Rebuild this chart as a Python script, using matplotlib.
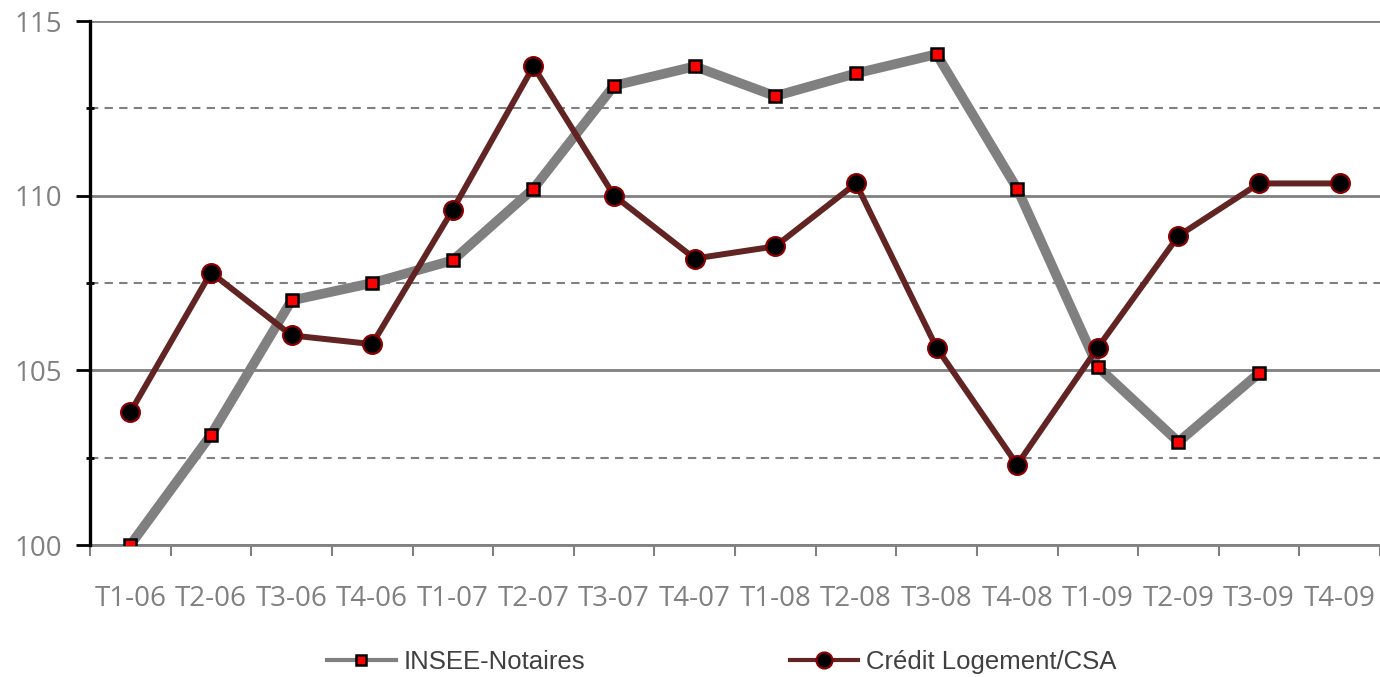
import numpy as np
import matplotlib
matplotlib.use("Agg")
import matplotlib.pyplot as plt
from matplotlib.ticker import MultipleLocator, FixedLocator

quarters = ["T1-06", "T2-06", "T3-06", "T4-06", "T1-07", "T2-07", "T3-07", "T4-07",
            "T1-08", "T2-08", "T3-08", "T4-08", "T1-09", "T2-09", "T3-09", "T4-09"]
insee = [100.0, 103.15, 107.0, 107.5, 108.15, 110.2, 113.15, 113.7,
         112.85, 113.5, 114.05, 110.2, 105.1, 102.95, 104.92, np.nan]
credit = [103.8, 107.8, 106.0, 105.75, 109.6, 113.7, 110.0, 108.2,
          108.55, 110.35, 105.65, 102.3, 105.65, 108.85, 110.35, 110.35]

fig = plt.figure(figsize=(13.8, 6.77), dpi=100)
ax = fig.add_axes([90/1380, 132/677, 1 - 90/1380, (545-21)/677])

x = np.arange(len(quarters))
gray = "#808080"

ax.plot(x, insee, color=gray, lw=7, marker="s", markersize=9,
        markerfacecolor="#ff0000", markeredgecolor="black", markeredgewidth=1.8,
        label="INSEE-Notaires", zorder=3)
ax.plot(x, credit, color="#622423", lw=4.3, marker="o", markersize=13.5,
        markerfacecolor="black", markeredgecolor="#8b0000", markeredgewidth=1.6,
        label="Crédit Logement/CSA", zorder=4)

ax.set_xlim(-0.5, len(quarters) - 0.5)
ax.set_ylim(100, 115)

# y axis
ax.yaxis.set_major_locator(MultipleLocator(5))
ax.yaxis.set_minor_locator(FixedLocator([102.5, 107.5, 112.5]))
ax.grid(axis="y", which="major", color=gray, lw=2, zorder=1)
ax.grid(axis="y", which="minor", color=gray, lw=1.5, ls=(0, (4, 3)), zorder=1)
ax.tick_params(axis="y", which="major", direction="out", length=10, width=2,
               color="black", labelcolor=gray, labelsize=20, pad=10)
ax.tick_params(axis="y", which="minor", direction="inout", length=6, width=2,
               color="black")

# x axis: labels centered, ticks between categories
ax.set_xticks(x)
ax.set_xticklabels(quarters)
ax.set_xticks(np.arange(-0.5, len(quarters)), minor=True)
ax.tick_params(axis="x", which="major", length=0, labelcolor=gray,
               labelsize=20, pad=29)
ax.tick_params(axis="x", which="minor", direction="out", length=8, width=1.5,
               color=gray)

for lbl in ax.get_xticklabels() + ax.get_yticklabels():
    lbl.set_family(["Open Sans", "DejaVu Sans"])

ax.spines["top"].set_visible(False)
ax.spines["right"].set_visible(False)
ax.spines["left"].set_color("black")
ax.spines["left"].set_linewidth(2.4)
ax.spines["bottom"].set_color(gray)
ax.spines["bottom"].set_linewidth(2)
ax.spines["left"].set_zorder(5)

leg = fig.legend(loc="center", bbox_to_anchor=(722/1380, 1 - 662/677), ncol=2,
                 frameon=False, handlelength=2.65, handletextpad=0.3,
                 columnspacing=8.0,
                 prop={"family": ["Liberation Sans", "DejaVu Sans"], "size": 18.5})
for t in leg.get_texts():
    t.set_color("#404040")
for h in leg.legend_handles:
    h.set_linewidth(3)
    h.set_markersize(h.get_markersize() * 0.85)

fig.savefig("out.png", dpi=100)
